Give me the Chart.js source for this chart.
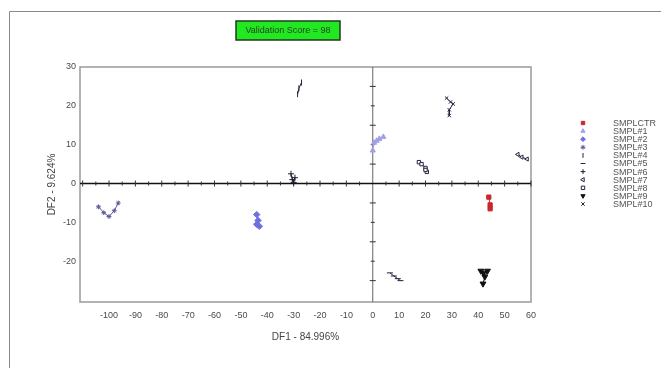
<!DOCTYPE html>
<html>
<head>
<meta charset="utf-8">
<script src="https://cdn.jsdelivr.net/npm/chart.js@4/dist/chart.umd.min.js"></script>
<style>
  html, body { margin: 0; padding: 0; background: #fff; }
  #wrap { width: 661px; height: 368px; position: relative; }
</style>
</head>
<body>
<div id="wrap"><canvas id="c" width="661" height="368"></canvas></div>
<script>
// Sample names shown in the legend
const categories = ['SMPLCTR', 'SMPL#1', 'SMPL#2', 'SMPL#3', 'SMPL#4', 'SMPL#5',
                    'SMPL#6', 'SMPL#7', 'SMPL#8', 'SMPL#9', 'SMPL#10'];

// Discriminant scores [DF1, DF2] for the replicates of each sample
const smplCtr = [[44.0, -3.5], [44.5, -5.5], [44.5, -6.5]];
const smpl1   = [[0.0, 8.5], [0.5, 10.5], [1.5, 11.0], [2.5, 11.5], [4.0, 12.0]];
const smpl2   = [[-44.0, -8.0], [-43.5, -9.5], [-44.0, -10.5], [-43.0, -11.0]];
const smpl3   = [[-104.0, -6.0], [-102.0, -7.5], [-100.0, -8.5], [-98.0, -7.0], [-96.5, -5.0]];
const smpl4   = [[-28.5, 23.0], [-28.0, 24.5], [-27.0, 26.0]];
const smpl5   = [[6.5, -23.0], [8.0, -23.8], [9.5, -24.5], [10.5, -25.0]];
const smpl6   = [[-31.0, 2.5], [-30.5, 1.0], [-30.0, 0.3], [-29.5, 1.5]];
const smpl7   = [[55.0, 7.5], [56.5, 6.8], [58.5, 6.3]];
const smpl8   = [[17.5, 5.5], [18.5, 5.0], [20.0, 4.0], [20.5, 3.0], [20.0, 3.5]];
const smpl9   = [[41.0, -22.5], [42.0, -23.0], [43.5, -22.5], [42.5, -24.0], [41.8, -25.8]];
const smpl10  = [[28.0, 22.0], [29.5, 21.0], [30.5, 20.5], [29.0, 19.0], [29.0, 17.5]];

// Tick labels
const xTickValues = [-100, -90, -80, -70, -60, -50, -40, -30, -20, -10, 0, 10, 20, 30, 40, 50, 60];
const yTickValues = [-20, -10, 0, 10, 20, 30];

const seriesValues = [smplCtr, smpl1, smpl2, smpl3, smpl4, smpl5, smpl6, smpl7, smpl8, smpl9, smpl10];

// Marker appearance per sample
const markers = [
  { style: 'rect',     color: '#c8282c', fill: '#c8282c', rot: 0,   r: 3 },
  { style: 'triangle', color: '#a0a0e8', fill: '#a0a0e8', rot: 0,   r: 3 },
  { style: 'rectRot',  color: '#6f6fe0', fill: '#6f6fe0', rot: 0,   r: 3.2 },
  { style: 'star',     color: '#5a5a96', fill: '#5a5a96', rot: 0,   r: 2.4 },
  { style: 'line',     color: '#23233f', fill: '#23233f', rot: 90,  r: 3 },
  { style: 'line',     color: '#23233f', fill: '#23233f', rot: 0,   r: 3 },
  { style: 'cross',    color: '#1c1c30', fill: '#1c1c30', rot: 0,   r: 3 },
  { style: 'triangle', color: '#23233f', fill: '#ffffff', rot: -90, r: 2.4 },
  { style: 'rect',     color: '#23233f', fill: '#ffffff', rot: 0,   r: 2.4 },
  { style: 'triangle', color: '#111111', fill: '#111111', rot: 180, r: 3.4 },
  { style: 'crossRot', color: '#23233f', fill: '#23233f', rot: 0,   r: 2.4 }
];

const FONT = "'Liberation Sans Narrow', 'Liberation Sans', Arial, sans-serif";

const datasets = categories.map((name, i) => ({
  label: name,
  data: seriesValues[i].map(p => ({ x: p[0], y: p[1] })),
  showLine: true,
  borderColor: markers[i].color,
  borderWidth: 1,
  pointStyle: markers[i].style,
  pointRotation: markers[i].rot,
  pointRadius: markers[i].r,
  pointHoverRadius: markers[i].r,
  pointBorderColor: markers[i].color,
  pointBackgroundColor: markers[i].fill,
  pointBorderWidth: 1
}));

// Outer frame, score badge, plot frame, zero axes with minor ticks
const decorations = {
  id: 'decorations',
  beforeDatasetsDraw(chart) {
    const { ctx, chartArea: a, scales: { x, y } } = chart;
    ctx.save();
    // plot frame
    ctx.strokeStyle = '#9a9a9a';
    ctx.lineWidth = 1.5;
    ctx.strokeRect(a.left, a.top, a.right - a.left, a.bottom - a.top);
    // zero axes
    const x0 = x.getPixelForValue(0);
    const y0 = y.getPixelForValue(0);
    ctx.strokeStyle = '#666';
    ctx.lineWidth = 1;
    ctx.beginPath();
    ctx.moveTo(x0, a.top); ctx.lineTo(x0, a.bottom);
    ctx.stroke();
    ctx.strokeStyle = '#111';
    ctx.lineWidth = 1.6;
    ctx.beginPath();
    ctx.moveTo(a.left, y0); ctx.lineTo(a.right, y0);
    ctx.stroke();
    // minor ticks along the zero axes
    ctx.lineWidth = 1;
    ctx.strokeStyle = '#333';
    ctx.beginPath();
    for (let v = -110; v <= 60; v += 5) {
      if (v === 0) continue;
      const px = x.getPixelForValue(v);
      const len = v % 10 === 0 ? 3 : 2;
      ctx.moveTo(px, y0 - len); ctx.lineTo(px, y0 + len);
    }
    for (let v = -25; v <= 25; v += 5) {
      if (v === 0) continue;
      const py = y.getPixelForValue(v);
      const len = v % 10 === 0 ? 2 : 3;
      ctx.moveTo(x0 - len, py); ctx.lineTo(x0 + len, py);
    }
    ctx.stroke();
    ctx.restore();
  },
  afterDraw(chart) {
    const { ctx } = chart;
    ctx.save();
    // outer frame of the figure
    ctx.strokeStyle = '#8a8a8a';
    ctx.lineWidth = 1;
    ctx.beginPath();
    ctx.moveTo(9.5, 368); ctx.lineTo(9.5, 11.5); ctx.lineTo(661, 11.5);
    ctx.stroke();
    // validation score badge
    ctx.fillStyle = '#22e822';
    ctx.fillRect(236, 21, 104, 19);
    ctx.strokeStyle = '#1f3a1f';
    ctx.lineWidth = 1.5;
    ctx.strokeRect(236, 21, 104, 19);
    ctx.fillStyle = '#264226';
    ctx.font = "9px " + FONT;
    ctx.textAlign = 'center';
    ctx.textBaseline = 'middle';
    ctx.fillText('Validation Score = 98', 288, 31);
    // legend
    const lx = 583, tx = 613, ly0 = 123, step = 8.1;
    ctx.font = "9px " + FONT;
    ctx.textAlign = 'left';
    chart.data.datasets.forEach((ds, i) => {
      const yy = ly0 + i * step;
      ctx.fillStyle = ds.pointBackgroundColor;
      ctx.strokeStyle = ds.pointBorderColor;
      ctx.lineWidth = 1;
      Chart.helpers.drawPoint(ctx, {
        pointStyle: ds.pointStyle,
        rotation: ds.pointRotation,
        radius: Math.min(ds.pointRadius, 2.4),
        borderWidth: 1
      }, lx, yy);
      ctx.fillStyle = '#555';
      ctx.fillText(ds.label, tx, yy + 0.5);
    });
    ctx.restore();
  }
};

new Chart(document.getElementById('c'), {
  type: 'scatter',
  data: { datasets },
  options: {
    responsive: false,
    animation: false,
    layout: { padding: { left: 42, right: 130, top: 67, bottom: 21 } },
    plugins: {
      legend: { display: false },
      tooltip: { enabled: false }
    },
    scales: {
      x: {
        type: 'linear',
        min: -111, max: 60,
        afterBuildTicks: s => { s.ticks = xTickValues.map(v => ({ value: v })); },
        afterFit: s => { s.height = 45; },
        grid: { display: false, drawTicks: false },
        border: { display: false },
        ticks: { font: { family: FONT, size: 9 }, color: '#4a4a4a', padding: 8, maxRotation: 0, autoSkip: false },
        title: { display: true, text: 'DF1 - 84.996%', font: { family: FONT, size: 10 }, color: '#444', padding: { top: 4, bottom: 4 } }
      },
      y: {
        type: 'linear',
        min: -30.5, max: 30,
        afterBuildTicks: s => { s.ticks = yTickValues.map(v => ({ value: v })); },
        afterFit: s => { s.width = 38; },
        grid: { display: false, drawTicks: false },
        border: { display: false },
        ticks: { font: { family: FONT, size: 9 }, color: '#4a4a4a', padding: 4, autoSkip: false },
        title: { display: true, text: 'DF2 - 9.624%', font: { family: FONT, size: 10 }, color: '#444', padding: { top: 4, bottom: 4 } }
      }
    }
  },
  plugins: [decorations]
});
</script>
</body>
</html>
